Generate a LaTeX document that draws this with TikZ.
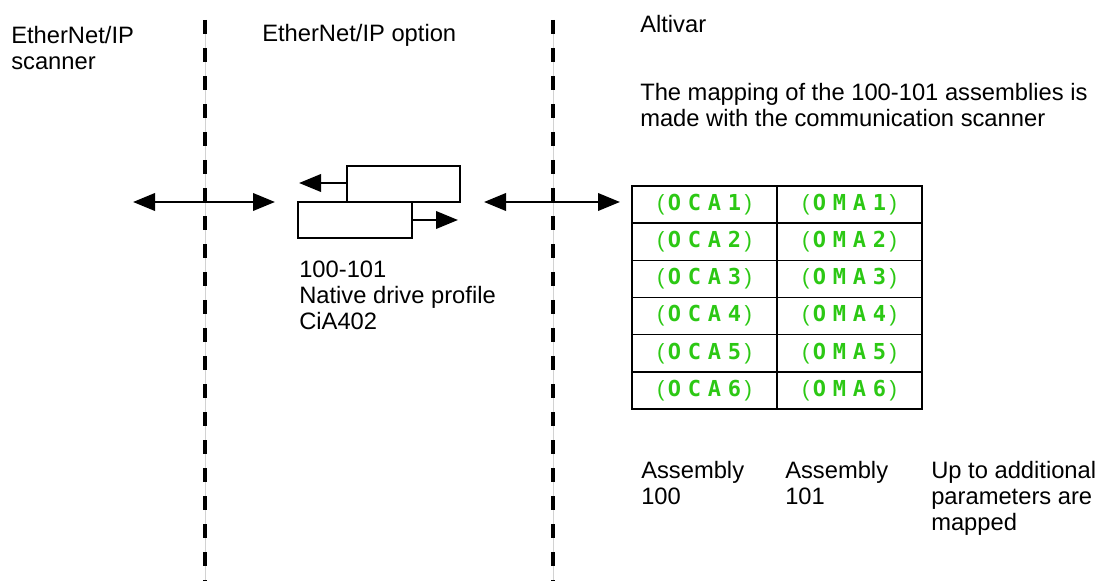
\documentclass[tikz,border=0pt]{standalone}
\usepackage{fontspec}
\setmainfont{Liberation Sans}
\newfontfamily\segfont{DejaVu Sans Mono Bold}
\usetikzlibrary{arrows.meta,positioning}
\definecolor{segGreen}{RGB}{44,200,20}
\newcommand\sg[1]{\makebox[15pt]{\segfont #1}}

\begin{document}
\begin{tikzpicture}
                [x=0.75pt, y=-0.75pt, >={Triangle[length=16.5pt,width=13pt]},
                every node/.style={font=\fontsize{17.8}{19.5}\selectfont},
                label text/.style={anchor=north west, inner sep=0pt, align=left},
                flow/.style={line width=2pt},
                frame box/.style={draw, line width=2.2pt, inner sep=0pt},
                cell/.style={draw, line width=1pt, inner sep=0pt,
                    minimum width=108.75pt, minimum height=27.9pt,
                    text=segGreen, font=\fontsize{16.5}{17}\selectfont},
                separator/.style={line width=3.2pt, dash pattern=on 10.5pt off 10.5pt},
                ]
                \useasboundingbox (0,0) rectangle (1108,581);

                % separators between the three parts
                \foreach \xs/\nm in {205/sepA, 553/sepB} {
                    \coordinate (\nm-top) at (\xs,20);
                    \coordinate (\nm-bot) at (\xs,581);
                    \draw[gray!35, line width=0.75pt] (\nm-top) -- (\nm-bot);
                    \draw[separator] (\nm-top) -- (\nm-bot);
                }

                \node[label text] (scanner) at (11,26) {EtherNet/IP\\scanner};
                \node[label text] (option) at (262,24) {EtherNet/IP option};
                \node[label text] (altivar) at (640,15) {Altivar};
                \node[label text] (mapping) at (640,83)
                    {The mapping of the 100-101 assemblies is\\made with the communication scanner};

                % exchange arrows
                \coordinate (L1) at (133,202);
                \coordinate (L2) at (275,202);
                \draw[flow, <->] (L1) -- (L2);
                \coordinate (R1) at (484,202);
                \coordinate (R2) at (620,202);
                \draw[flow, <->] (R1) -- (R2);

                % the two assembly boxes
                \node[frame box, minimum width=84.75pt, minimum height=27pt]
                    (outbox) at (403.5,184) {};
                \node[frame box, minimum width=85.5pt, minimum height=27pt]
                    (inbox) at (355,220) {};
                \coordinate (outtip) at (299,183);
                \coordinate (intip) at (458,220);
                \draw[flow, ->] (outbox.west |- outtip) -- (outtip);
                \draw[flow, ->] (inbox.east) -- (intip);

                \node[label text] (profile) at (299,261)
                    {100-101\\Native drive profile\\CiA402};

                % table of mapped parameters
                \foreach \r in {1,...,6} {
                    \node[cell] (oca\r) at (704.5,{186+37.17*(\r-0.5)})
                        {(\sg O\sg C\sg A\sg{\r})};
                    \node[cell] (oma\r) at (849.5,{186+37.17*(\r-0.5)})
                        {(\sg O\sg M\sg A\sg{\r})};
                }

                \node[label text] (asm100) at (641,461) {Assembly\\100};
                \node[label text] (asm101) at (785,461) {Assembly\\101};
                \node[label text] (extra) at (931,461)
                    {Up to additional\\parameters are\\mapped};
            \end{tikzpicture}
\end{document}
